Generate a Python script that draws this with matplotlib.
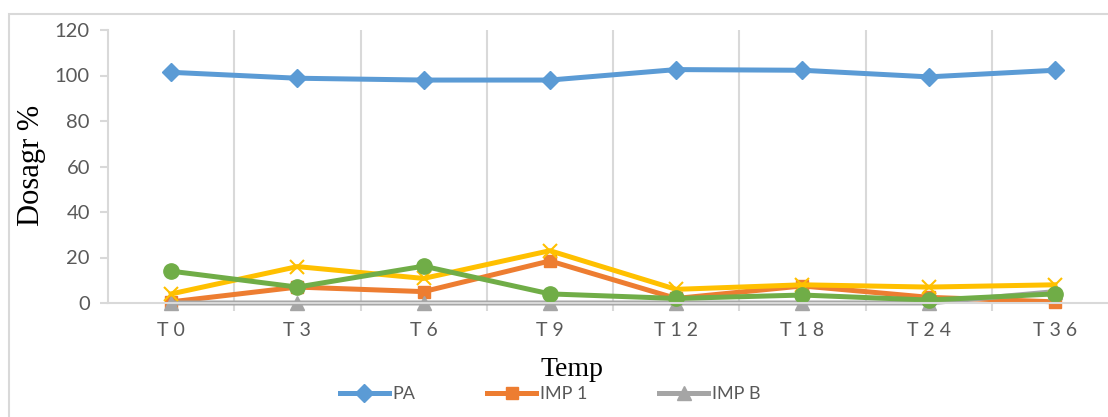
import numpy as np
import matplotlib
matplotlib.use('Agg')
import matplotlib.pyplot as plt
from matplotlib.patches import Rectangle

# data
categories = ['T0', 'T3', 'T6', 'T9', 'T12', 'T18', 'T24', 'T36']
pa = [101.4, 98.8, 98.0, 98.0, 102.6, 102.3, 99.4, 102.3]
imp1 = [0.5, 7.0, 5.0, 18.5, 2.0, 7.5, 2.5, 0.5]
impb = [0, 0, 0, 0, 0, 0, 0, 5.0]
serie4 = [4.0, 16.0, 10.8, 23.0, 6.0, 8.0, 7.0, 8.0]
serie5 = [14.0, 7.0, 16.2, 4.0, 2.0, 3.5, 1.3, 4.0]
yticks = [0, 20, 40, 60, 80, 100, 120]

fig = plt.figure(figsize=(11.08, 4.17), dpi=100)
ax = fig.add_axes([108/1108, 114/417, 1010/1108, 273/417])

x = np.arange(len(categories))
lw = 3.6
l1, = ax.plot(x, pa, color='#5b9bd5', lw=lw, marker='D', ms=9, label='PA')
l2, = ax.plot(x, imp1, color='#ed7d31', lw=lw, marker='s', ms=9, label='IMP 1')
l3, = ax.plot(x, impb, color='#a5a5a5', lw=lw, marker='^', ms=10, label='IMP B')
ax.plot(x, serie4, color='#ffc000', lw=lw, marker='x', ms=10, mew=1.5)
ax.plot(x, serie5, color='#70ad47', lw=lw, marker='o', ms=11)
for ln in ax.lines:
    ln.set_clip_on(False)

ax.set_xlim(-0.5, len(categories) - 0.5)
ax.set_ylim(0, 120)
ax.set_yticks(yticks)
ax.set_xticks(x)
ax.set_xticklabels([' '.join(c) for c in categories])
ax.set_xticks(x[:-1] + 0.5, minor=True)

grid_c = '#d9d9d9'
ax.grid(axis='x', which='minor', color=grid_c, lw=1.5)
ax.set_axisbelow(True)
for s in ['top', 'right']:
    ax.spines[s].set_visible(False)
for s in ['left', 'bottom']:
    ax.spines[s].set_color(grid_c)
    ax.spines[s].set_linewidth(1.5)
ax.tick_params(axis='x', which='major', length=0, pad=14,
               labelsize=14, labelcolor='#595959')
ax.tick_params(axis='x', which='minor', length=6, width=1.5, color=grid_c)
ax.tick_params(axis='y', length=6, width=1.5, color=grid_c, pad=7,
               labelsize=14.5, labelcolor='#595959')
for t in ax.get_xticklabels() + ax.get_yticklabels():
    t.set_fontfamily('Lato')

fig.text(32/1108, 1 - 165/417, 'Dosagr %', rotation=90, ha='center', va='center',
         family='Liberation Serif', fontsize=22)
fig.text(572/1108, 1 - 370/417, 'Temp', ha='center', va='center',
         family='Liberation Serif', fontsize=20)

leg = fig.legend(handles=[l1, l2, l3], loc='center', ncol=3,
                 bbox_to_anchor=(550/1108, 1 - 394/417), frameon=False,
                 handlelength=2.7, handletextpad=0.2, columnspacing=4.0,
                 prop={'family': 'Lato', 'size': 13})
for t in leg.get_texts():
    t.set_color('#595959')

fig.patches.append(Rectangle((9/1108, -0.1), 1.2, (417 - 14)/417 + 0.1,
                             transform=fig.transFigure, fill=False,
                             edgecolor=grid_c, lw=1.5))

fig.savefig('out.png', dpi=100)
